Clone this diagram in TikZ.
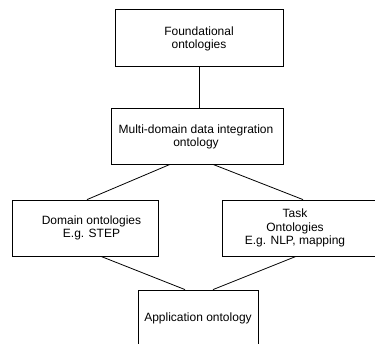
\documentclass[tikz,border=0pt]{standalone}
\usepackage{fontspec}
\setmainfont{Liberation Sans}
\begin{document}
\begin{tikzpicture}[x=1pt,y=-1pt,
  box/.style={draw=black,line width=0.8pt,rectangle,inner sep=0pt},
  lbl/.style={align=center,font=\fontsize{12pt}{13.8pt}\selectfont,inner sep=0pt},
  link/.style={draw=black,line width=0.8pt}]
\useasboundingbox (0,0) rectangle (375,344);
\clip (0,0) rectangle (375,344);
% boxes
\node[box,minimum width=168pt,minimum height=57pt] (F) at (199,37.5) {};
\node[box,minimum width=172pt,minimum height=56pt] (M) at (197,136) {};
\node[box,minimum width=146pt,minimum height=56pt] (D) at (85,228) {};
\node[box,minimum width=156pt,minimum height=56pt] (T) at (300,228) {};
\node[box,minimum width=120pt,minimum height=56pt] (A) at (198,318) {};
% labels
\node[lbl] (Ft) at (199,39) {Foundational\\ontologies};
\node[lbl] (Mt) at (196,137) {Multi-domain data integration\\ontology};
\node[lbl] (Dt) at (91.5,228) {Domain ontologies\\E.g. STEP};
\node[lbl] (Tt) at (295,228) {Task\\Ontologies\\E.g. NLP, mapping};
\node[lbl] (At) at (198,318) {Application ontology};
% connectors
\draw[link] (F.south) -- (F.south |- M.north);
\draw[link] ([xshift=-27pt]M.south) -- ([xshift=2pt]D.north);
\draw[link] ([xshift=16pt]M.south) -- ([xshift=3pt]T.north);
\draw[link] ([xshift=16pt]D.south) -- ([xshift=-13pt]A.north);
\draw[link] ([xshift=-4pt]T.south) -- ([xshift=15pt]A.north);
\end{tikzpicture}
\end{document}
